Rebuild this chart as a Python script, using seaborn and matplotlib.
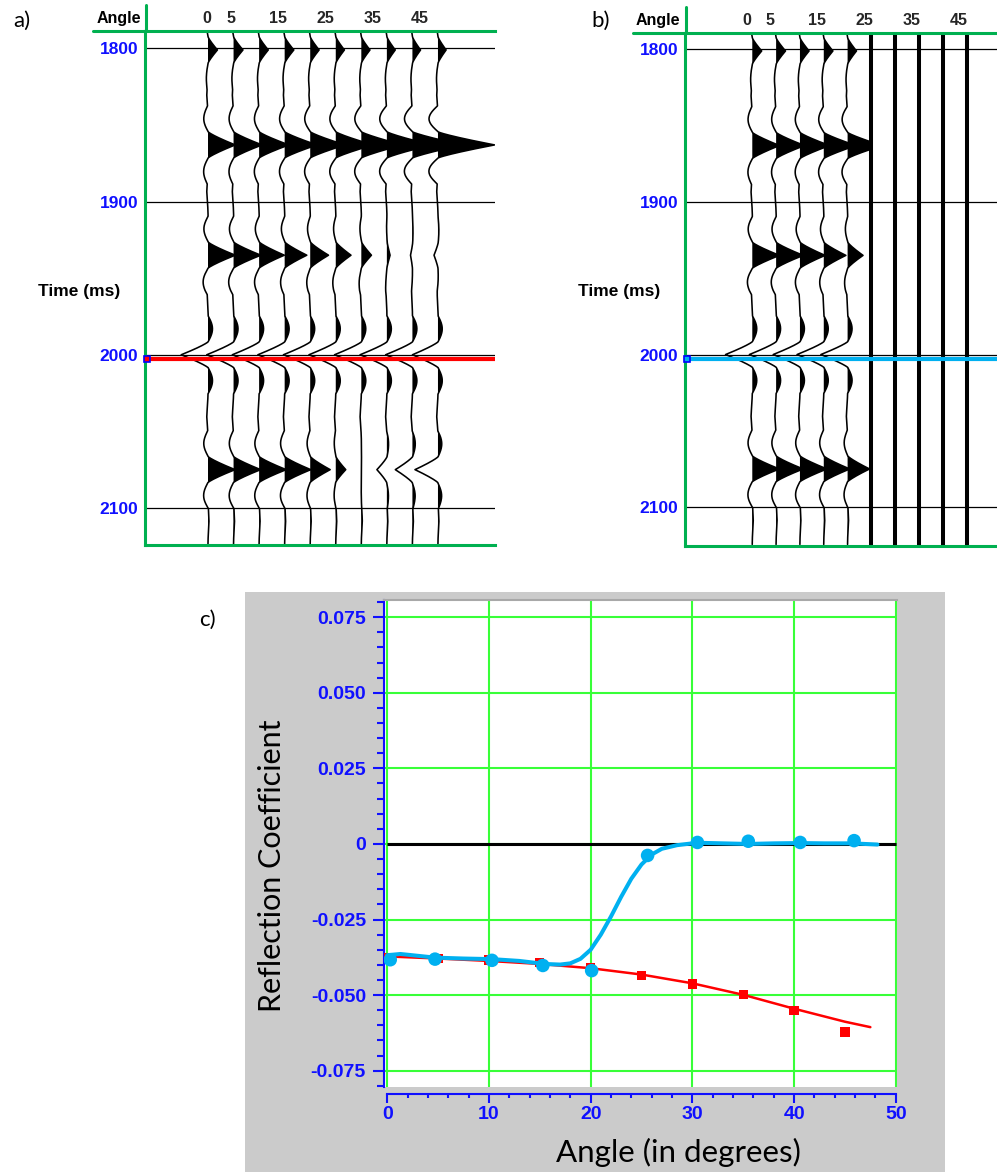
import numpy as np
import pandas as pd
import matplotlib
matplotlib.use("Agg")
import matplotlib.pyplot as plt
import seaborn as sns
from matplotlib.lines import Line2D
from matplotlib.patches import Rectangle
from matplotlib.ticker import MultipleLocator

sns.set_theme(style="white")
plt.rcParams['font.family'] = ['Liberation Sans', 'DejaVu Sans']

W, H, DPI = 997, 1172, 100

# ---------------- data: gathers (panels a, b) ----------------
angles = [0, 5, 10, 15, 20, 25, 30, 35, 40, 45]
angle_tick_labels = [0, 5, 15, 25, 35, 45]
time_ticks = [1800, 1900, 2000, 2100]
time_tick_labels = ["1800", "1900", "2000", "2100"]
interface_time = 2003
event_times = [1801, 1863, 1935, 2000, 2075]

# event amplitudes per angle (units of one trace spacing), panel a
a_ev1 = [0.36, 0.36, 0.35, 0.35, 0.34, 0.33, 0.33, 0.32, 0.31, 0.31]
a_ev2 = [1.05, 1.10, 1.15, 1.25, 1.35, 1.45, 1.60, 1.75, 1.95, 2.20]
a_ev3 = [1.06, 1.06, 0.98, 0.86, 0.71, 0.59, 0.39, 0.12, -0.08, -0.16]
a_ev4 = [-1.05, -1.05, -1.05, -1.05, -1.05, -1.05, -1.05, -1.05, -1.05, -1.00]
a_ev5 = [1.06, 1.06, 1.06, 1.02, 0.78, 0.39, 0.00, -0.39, -0.67, -0.90]

# panel b (only angles 0-20 carry a trace)
b_ev1 = [0.36, 0.36, 0.35, 0.35, 0.34]
b_ev2 = [1.05, 1.10, 1.15, 1.25, 1.35]
b_ev3 = [1.06, 1.06, 0.98, 0.86, 0.60]
b_ev4 = [-1.05, -1.05, -1.05, -1.05, -1.05]
b_ev5 = [1.06, 1.06, 1.06, 1.02, 0.86]

# weak background reflections common to all traces
bg_times = [1830, 1893, 1958, 2040, 2108]
bg_amps = [-0.05, -0.05, -0.04, -0.05, 0.04]

# ---------------- data: AVO panel (c) ----------------
red_angle = [0, 5, 10, 15, 20, 25, 30, 35, 40, 45]
red_rc = [-0.0375, -0.0379, -0.0384, -0.0393, -0.0410, -0.0436, -0.0463, -0.0498, -0.0550, -0.0622]
red_fit_angle = [0, 5, 10, 15, 20, 25, 30, 35, 40, 45, 47.5]
red_fit_rc = [-0.0372, -0.0379, -0.0387, -0.0397, -0.0411, -0.0432, -0.0461, -0.0499, -0.0545, -0.0588, -0.0606]

blue_angle = [0.3, 4.7, 10.3, 15.3, 20.1, 25.6, 30.5, 35.5, 40.6, 45.9]
blue_rc = [-0.0383, -0.0381, -0.0385, -0.0402, -0.0419, -0.0038, 0.0005, 0.0009, 0.0005, 0.0011]
blue_fit_angle = [0.0, 1.3, 3.0, 4.7, 7.5, 10.3, 13.0, 15.5, 17.0, 18.0, 19.0, 20.0, 21.0, 22.0,
                  23.0, 24.0, 25.0, 26.0, 27.0, 28.5, 30.5, 33.0, 35.5, 38.0, 40.6, 43.0, 45.7, 48.2]
blue_fit_rc = [-0.0368, -0.0364, -0.0370, -0.0376, -0.0379, -0.0381, -0.0387, -0.0397, -0.0399,
               -0.0395, -0.0380, -0.0350, -0.0300, -0.0240, -0.0175, -0.0115, -0.0068, -0.0035,
               -0.0016, -0.0004, 0.0004, 0.0002, 0.0000, 0.0002, 0.0003, 0.0002, 0.0002, -0.0002]

c_xticks = [0, 10, 20, 30, 40, 50]
c_yticks = [-0.075, -0.050, -0.025, 0, 0.025, 0.050, 0.075]
c_yticklabels = ["-0.075", "-0.050", "-0.025", "0", "0.025", "0.050", "0.075"]

# ---------------- style ----------------
GREEN = '#00b050'
BLUE_TXT = '#1010ff'
CYAN = '#00b0f0'
GRID_G = '#38ff38'


def fig_rect(x0, y0, x1, y1):
    return [x0 / W, 1 - y1 / H, (x1 - x0) / W, (y1 - y0) / H]


def fline(xs, ys, **kw):
    fig.add_artist(Line2D([x / W for x in xs], [1 - y / H for y in ys],
                          transform=fig.transFigure, **kw))


fig = plt.figure(figsize=(W / DPI, H / DPI), dpi=DPI, facecolor='white')

t = np.arange(1789, 2124.6, 0.25)


def wavelet(tt, T=8.5):
    a = np.abs(tt)
    main = np.clip(1 - a / T, 0, None) ** 1.2
    side = np.where((a >= T) & (a < 3 * T), -0.16 * np.sin(np.pi * (a - T) / (2 * T)), 0.0)
    return main + side


def synth(events, i):
    s = np.zeros_like(t)
    for te, amps in zip(event_times, events):
        s += amps[i] * wavelet(t - te)
    for te, a in zip(bg_times, bg_amps):
        s += a * wavelet(t - te, T=14)
    return s


def draw_traces(ax, events, n, gain, clip=None):
    for i in range(n):
        base = angles[i]
        x = base + gain * synth(events, i)
        if clip is not None:
            x = np.minimum(x, clip)
        ax.fill_betweenx(t, base, x, where=x > base, color='black', lw=0,
                         interpolate=True, zorder=3)
        sns.lineplot(x=x, y=t, orient='y', sort=False, estimator=None, ax=ax,
                     color='black', lw=1.15, zorder=4)


def setup_gather(ax, xlim, ylim, label_fwd, label_inv):
    ax.set_xlim(*xlim)
    ax.set_ylim(ylim[1], ylim[0])
    ax.set_facecolor('white')
    for s in ['left', 'top', 'bottom']:
        ax.spines[s].set_color(GREEN)
        ax.spines[s].set_linewidth(2.2)
        ax.spines[s].set_zorder(6)
    ax.spines['right'].set_visible(False)
    ax.set_xticks([])
    ax.set_yticks(time_ticks)
    ax.set_yticklabels(time_tick_labels)
    ax.tick_params(axis='y', length=0, pad=5, labelsize=12.5, labelcolor=BLUE_TXT)
    for lab in ax.get_yticklabels():
        lab.set_fontweight('bold')
    for tt in time_ticks:
        ax.axhline(tt, color='black', lw=0.9, zorder=2)
    sec = ax.secondary_xaxis('top', functions=(label_fwd, label_inv))
    sec.set_xticks(angle_tick_labels)
    sec.tick_params(length=0, pad=3, labelsize=11.5)
    for lab in sec.get_xticklabels():
        lab.set_fontweight('bold')
    sec.spines['top'].set_visible(False)
    ax.set_xlabel('')
    ax.set_ylabel('')


# ---------------- panel a ----------------
axa = fig.add_axes(fig_rect(145, 30.5, 495, 545))
draw_traces(axa, [a_ev1, a_ev2, a_ev3, a_ev4, a_ev5], 10, 5.0)
setup_gather(axa, (-12.33, 56.16), (1788.3, 2124.2),
             lambda x: (5.11 * x + 1) / 4.73, lambda L: (4.73 * L - 1) / 5.11)
axa.axhline(interface_time, color='red', lw=3.0, zorder=5)
axa.plot([-12.0], [interface_time], marker='s', ms=5, mfc='red', mec='blue', mew=1.2,
         clip_on=False, zorder=7)
fline([145.5, 145.5], [5, 31], color=GREEN, lw=2.2)
fline([93, 146], [30.5, 30.5], color=GREEN, lw=2.2)

# ---------------- panel b ----------------
axb = fig.add_axes(fig_rect(685, 32.5, 997, 546))
draw_traces(axb, [b_ev1, b_ev2, b_ev3, b_ev4, b_ev5], 5, 5.35, clip=angles[5])
setup_gather(axb, (-14.12, 51.35), (1788.9, 2125.5),
             lambda x: (4.765 * x + 5.3) / 4.7, lambda L: (4.7 * L - 5.3) / 4.765)
for ang in angles[5:]:
    axb.axvline(ang, color='black', lw=2.9, zorder=5)
axb.axhline(interface_time, color=CYAN, lw=3.0, zorder=6)
axb.plot([-13.8], [interface_time], marker='s', ms=5, mfc=CYAN, mec='blue', mew=1.2,
         clip_on=False, zorder=7)
fline([685.5, 685.5], [7, 33], color=GREEN, lw=2.2)
fline([633, 686], [32.5, 32.5], color=GREEN, lw=2.2)

# gather annotations
for x0, y0 in [(119, 18), (658, 20)]:
    fig.text(x0 / W, 1 - y0 / H, "Angle", ha='center', va='center', fontsize=11.5,
             fontweight='bold', color='black')
for x0, y0 in [(79, 292), (619, 292)]:
    fig.text(x0 / W, 1 - y0 / H, "Time (ms)", ha='center', va='center', fontsize=12.5,
             fontweight='bold', color='black')

# ---------------- panel c ----------------
fig.add_artist(Rectangle((245 / W, 0), 700 / W, (H - 592) / H, transform=fig.transFigure,
                         facecolor='#cbcbcb', edgecolor='none', zorder=-5))
axc = fig.add_axes(fig_rect(384, 600, 897, 1087))
axc.set_facecolor('white')
axc.set_xlim(-0.315, 50.12)
axc.set_ylim(-0.0804, 0.0807)
axc.set_xticks(c_xticks)
axc.set_yticks(c_yticks)
axc.set_yticklabels(c_yticklabels)
axc.xaxis.set_minor_locator(MultipleLocator(2))
axc.yaxis.set_minor_locator(MultipleLocator(0.005))
axc.grid(True, which='major', color=GRID_G, lw=1.5, zorder=0)
axc.set_axisbelow(True)

axc.hlines(0, 0, 50, color='black', lw=2.2, zorder=2)
sns.lineplot(x=red_fit_angle, y=red_fit_rc, color='red', lw=1.8, ax=axc, zorder=3)
sns.scatterplot(x=red_angle, y=red_rc, marker='s', s=45, color='red', edgecolor='none',
                ax=axc, zorder=4)
sns.lineplot(x=blue_fit_angle, y=blue_fit_rc, color=CYAN, lw=2.9, ax=axc, zorder=5)
sns.scatterplot(x=blue_angle, y=blue_rc, s=95, color=CYAN, edgecolor='none', ax=axc, zorder=6)

axc.spines['right'].set_visible(False)
axc.spines['top'].set_color('#a8a8a8')
axc.spines['top'].set_linewidth(1.5)
axc.spines['left'].set_color(BLUE_TXT)
axc.spines['left'].set_linewidth(1.5)
axc.spines['bottom'].set_color(BLUE_TXT)
axc.spines['bottom'].set_linewidth(1.5)
axc.spines['bottom'].set_position(('outward', 5))
axc.spines['bottom'].set_bounds(0, 50)

axc.tick_params(axis='y', which='major', direction='out', length=8, width=1.5,
                color=BLUE_TXT, labelcolor=BLUE_TXT, labelsize=14, pad=5, left=True)
axc.tick_params(axis='y', which='minor', direction='out', length=5, width=1.5,
                color=BLUE_TXT, left=True)
axc.tick_params(axis='x', which='major', direction='out', length=6.5, width=1.5,
                color=BLUE_TXT, labelcolor=BLUE_TXT, labelsize=14, pad=2, bottom=True)
axc.tick_params(axis='x', which='minor', direction='out', length=3, width=1.5,
                color=BLUE_TXT, bottom=True)
for lab in axc.get_xticklabels() + axc.get_yticklabels():
    lab.set_fontweight('bold')
axc.set_xlabel('')
axc.set_ylabel('')

LAB_FONT = ['Lato', 'DejaVu Sans']
fig.text(272 / W, 1 - 866 / H, "Reflection Coefficient", rotation=90, ha='center', va='center',
         fontsize=22, family=LAB_FONT, color='black')
fig.text(678 / W, 1 - 1152 / H, "Angle (in degrees)", ha='center', va='center',
         fontsize=22.5, family=LAB_FONT, color='black')

for s, x0, y0 in [("a)", 22, 21), ("b)", 601, 21), ("c)", 207, 620)]:
    fig.text(x0 / W, 1 - y0 / H, s, ha='center', va='center', fontsize=16,
             family=LAB_FONT, color='black')

fig.savefig("out.png", dpi=DPI, facecolor='white')
